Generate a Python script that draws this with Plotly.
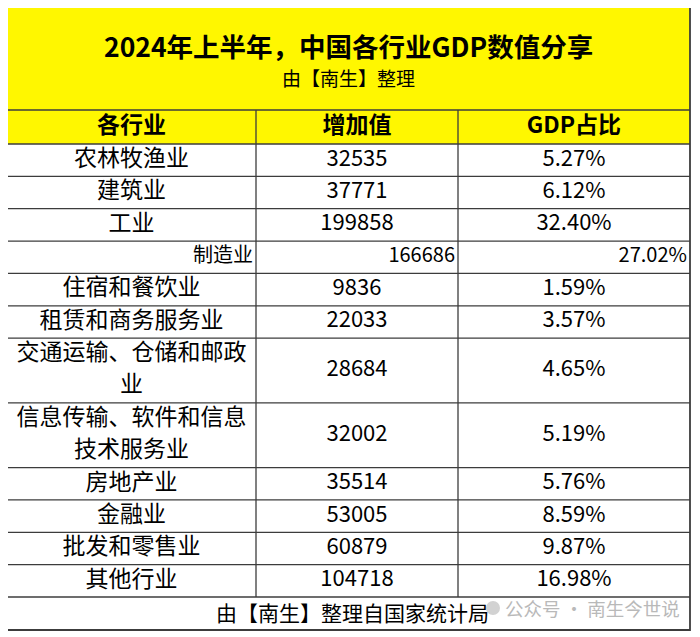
import plotly.graph_objects as go

title = "2024年上半年，中国各行业GDP数值分享"
subtitle = "由【南生】整理"
headers = ["各行业", "增加值", "GDP占比"]
industries = ["农林牧渔业", "建筑业", "工业", "制造业", "住宿和餐饮业", "租赁和商务服务业",
              "交通运输、仓储和邮政<br>业", "信息传输、软件和信息<br>技术服务业",
              "房地产业", "金融业", "批发和零售业", "其他行业"]
added_value = [32535, 37771, 199858, 166686, 9836, 22033, 28684, 32002, 35514, 53005, 60879, 104718]
gdp_share = ["5.27%", "6.12%", "32.40%", "27.02%", "1.59%", "3.57%", "4.65%", "5.19%",
             "5.76%", "8.59%", "9.87%", "16.98%"]
sub_rows = ["制造业"]
footer = "由【南生】整理自国家统计局"
watermark = "公众号 · 南生今世说"

# ---------------- geometry / style ----------------
OFF = 8                      # page body margin of the html page
W, H = 700 - OFF, 637 - OFF
YELLOW = "#FFF700"
LINE = "#3c3c3c"
FONT = "Noto Sans CJK SC"
col_font_sizes = [23, 22, 22]
sub_font_size = 20

col_edges_ref = [7, 256, 458, 690]
top_ref, head_top_ref, head_bot_ref, body_bot_ref, foot_bot_ref = 7, 110, 144, 597, 630

def X(v):
    return v - OFF

def Y(v):
    return v - OFF

col_edges = [X(v) for v in col_edges_ref]
n_lines = [len(s.split("<br>")) for s in industries]
unit = (body_bot_ref - head_bot_ref) / sum(n_lines)
row_tops = [Y(head_bot_ref)]
for n in n_lines:
    row_tops.append(row_tops[-1] + n * unit)
row_centers = [(row_tops[i] + row_tops[i + 1]) / 2 for i in range(len(industries))]
col_centers = [(col_edges[i] + col_edges[i + 1]) / 2 for i in range(3)]

fig = go.Figure()

# ---------------- cell texts ----------------
line_gap = 32
columns = [industries, [str(v) for v in added_value], gdp_share]
for ci, col in enumerate(columns):
    xs, ys, ts, sizes, poss = [], [], [], [], []
    for ri, val in enumerate(col):
        is_sub = industries[ri] in sub_rows
        parts = val.split("<br>")
        for li, part in enumerate(parts):
            xs.append(col_edges[ci + 1] - 3 if is_sub else col_centers[ci])
            ys.append(row_centers[ri] + (li - (len(parts) - 1) / 2) * line_gap)
            ts.append(part)
            sizes.append(sub_font_size if is_sub else col_font_sizes[ci])
            poss.append("middle left" if is_sub else "middle center")
    fig.add_trace(go.Scatter(
        x=xs, y=ys, text=ts, mode="text",
        textposition=poss,
        textfont=dict(family=FONT, size=sizes, color="black"),
        hoverinfo="skip", showlegend=False, cliponaxis=False,
    ))

# header texts
fig.add_trace(go.Scatter(
    x=col_centers, y=[(Y(head_top_ref) + Y(head_bot_ref)) / 2] * 3,
    text=["<b>%s</b>" % h for h in headers], mode="text",
    textposition="middle center",
    textfont=dict(family=FONT, size=23, color="black"),
    hoverinfo="skip", showlegend=False, cliponaxis=False,
))

# ---------------- shapes ----------------
shapes = [
    dict(type="line", x0=-OFF, x1=W, y0=Y(2), y1=Y(2), line=dict(color="#e4e4e4", width=1)),
    dict(type="line", x0=X(2), x1=X(2), y0=-OFF, y1=H, line=dict(color="#e4e4e4", width=1)),
    dict(type="rect", x0=col_edges[0], x1=col_edges[-1], y0=Y(top_ref), y1=Y(head_bot_ref),
         fillcolor=YELLOW, line=dict(width=0), layer="below"),
]
for yv in [Y(head_top_ref)] + row_tops:
    shapes.append(dict(type="line", x0=col_edges[0], x1=col_edges[-1], y0=yv, y1=yv,
                       line=dict(color=LINE, width=1.3)))
for xv in col_edges[1:-1]:
    shapes.append(dict(type="line", x0=xv, x1=xv, y0=Y(head_top_ref), y1=Y(body_bot_ref),
                       line=dict(color=LINE, width=1.3)))
shapes.append(dict(type="rect", x0=col_edges[0], x1=col_edges[-1], y0=Y(top_ref), y1=Y(foot_bot_ref),
                   line=dict(color=LINE, width=1.8)))
shapes.append(dict(type="circle", x0=X(486), x1=X(500), y0=Y(601), y1=Y(615),
                   fillcolor="#d2d2d2", line=dict(width=0)))

annotations = [
    dict(text="<b>%s</b>" % title, x=(col_edges[0] + col_edges[-1]) / 2, y=Y(45),
         showarrow=False, font=dict(family=FONT, size=26.5, color="black"), xanchor="center", yanchor="middle"),
    dict(text=subtitle, x=(col_edges[0] + col_edges[-1]) / 2, y=Y(77),
         showarrow=False, font=dict(family=FONT, size=19, color="black"), xanchor="center", yanchor="middle"),
    dict(text=footer, x=X(352), y=Y(612),
         showarrow=False, font=dict(family=FONT, size=21, color="black"), xanchor="center", yanchor="middle"),
    dict(text=watermark, x=X(503), y=Y(608),
         showarrow=False, font=dict(family=FONT, size=18.5, color="#b9b9b9"), xanchor="left", yanchor="middle"),
]

fig.update_layout(
    width=W, height=H,
    margin=dict(l=0, r=0, t=0, b=0, pad=0),
    paper_bgcolor="white", plot_bgcolor="white",
    xaxis=dict(range=[0, W], visible=False, fixedrange=True),
    yaxis=dict(range=[H, 0], visible=False, fixedrange=True),
    shapes=shapes,
    annotations=annotations,
    showlegend=False,
)

fig.write_html("out.html", config={"displayModeBar": False})
